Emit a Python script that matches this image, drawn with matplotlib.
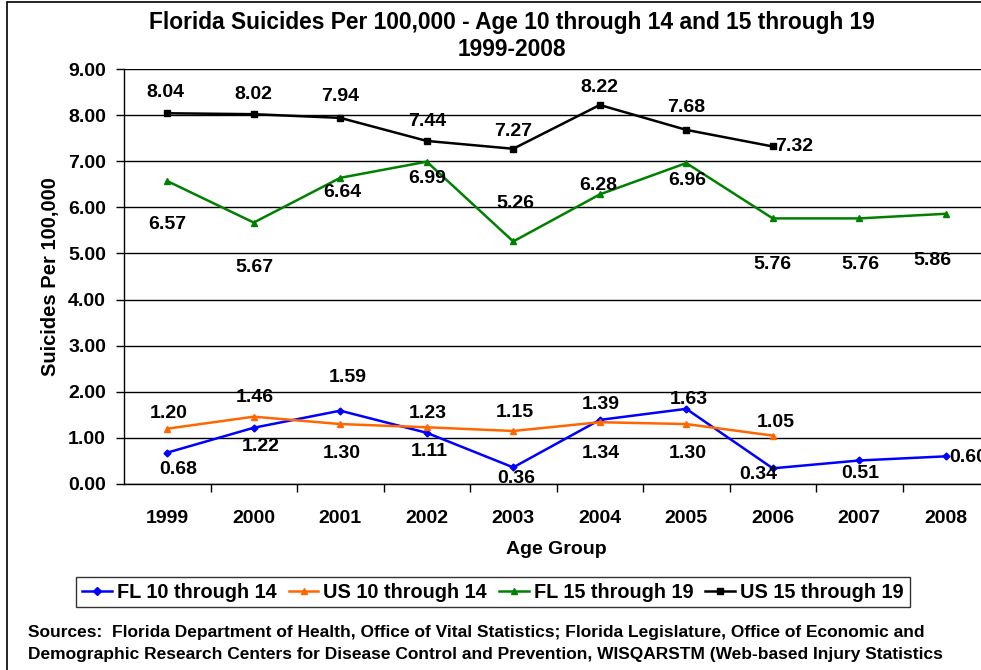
import matplotlib
matplotlib.use("Agg")
import matplotlib.pyplot as plt
from matplotlib.patches import Rectangle

plt.rcParams['font.family'] = ['Liberation Sans', 'DejaVu Sans']
plt.rcParams['font.weight'] = 'bold'

years = ['1999', '2000', '2001', '2002', '2003', '2004', '2005', '2006', '2007', '2008']
fl_10_14 = [0.68, 1.22, 1.59, 1.11, 0.36, 1.39, 1.63, 0.34, 0.51, 0.60]
us_10_14 = [1.20, 1.46, 1.30, 1.23, 1.15, 1.34, 1.30, 1.05]
fl_15_19 = [6.57, 5.67, 6.64, 6.99, 5.26, 6.28, 6.96, 5.76, 5.76, 5.86]
us_15_19 = [8.04, 8.02, 7.94, 7.44, 7.27, 8.22, 7.68, 7.32]

# label offsets in pixels (style)
off_fl10 = [(11, -17), (7, -19), (7, 33), (3, -19), (3, -11), (1, 15), (3, 9), (-15, -6), (1, -13), (22, -1)]
off_us10 = [(1, 15), (1, 19), (2, -29), (1, 14), (2, 18), (1, -31), (1, -29), (3, 13)]
off_fl15 = [(0, -43), (1, -45), (2, -15), (0, -17), (2, 38), (-1, 9), (1, -17), (0, -46), (1, -46), (-13, -47)]
off_us15 = [(-2, 21), (0, 20), (0, 21), (0, 19), (0, 17), (0, 17), (0, 22), (21, 0)]

fig = plt.figure(figsize=(9.81, 6.70), dpi=100)
W, H = 981, 670

# outer border
fig.patches.append(Rectangle((7 / W, -0.01), 1.0, 1 - 2 / H + 0.01, transform=fig.transFigure,
                             fill=False, edgecolor='black', linewidth=1.2))

ax = fig.add_axes([124 / W, (H - 484) / H, 865 / W, 415 / H])
ax.set_facecolor('none')

series = [
    (fl_10_14, '#0000FF', 'D', 3.5, 'FL 10 through 14', off_fl10),
    (us_10_14, '#FF6600', '^', 5, 'US 10 through 14', off_us10),
    (fl_15_19, '#008000', '^', 5, 'FL 15 through 19', off_fl15),
    (us_15_19, '#000000', 's', 4, 'US 15 through 19', off_us15),
]

FS = 14
handles = []
for vals, col, mk, ms, lab, offs in series:
    xs = list(range(len(vals)))
    ln, = ax.plot(xs, vals, color=col, marker=mk, markersize=ms, linewidth=1.8,
                  markeredgecolor=col, markerfacecolor=col, label=lab, zorder=3)
    handles.append(ln)
    for x, v, (dx, dy) in zip(xs, vals, offs):
        ax.annotate(f"{v:.2f}", (x, v), xytext=(dx, dy), textcoords='offset pixels',
                    ha='center', va='center', fontsize=FS, fontweight='bold',
                    color='black', annotation_clip=False, zorder=4)

ax.set_xlim(-0.5, 9.5)
ax.set_ylim(0, 9)
ax.set_yticks([i for i in range(10)])
ax.set_yticklabels([f"{i:.2f}" for i in range(10)], fontsize=FS, fontweight='bold')
ax.set_xticks(range(10))
ax.set_xticklabels(years, fontsize=FS, fontweight='bold')
ax.set_xticks([i + 0.5 for i in range(9)], minor=True)
ax.tick_params(axis='x', which='major', length=0, pad=19)
ax.tick_params(axis='x', which='minor', length=6, width=1, direction='out')
ax.tick_params(axis='y', which='major', length=6, width=1, direction='out', pad=7)
ax.grid(axis='y', color='black', linewidth=1.0, zorder=0)
for s in ['top', 'right']:
    ax.spines[s].set_visible(False)
ax.spines['left'].set_linewidth(1.0)
ax.spines['bottom'].set_linewidth(1.0)

ax.set_ylabel('Suicides Per 100,000', fontsize=14.5, fontweight='bold', labelpad=6)
fig.text(556 / W, 1 - 549 / H, 'Age Group', ha='center', va='center', fontsize=14, fontweight='bold')

fig.text(512 / W, 1 - 22 / H, 'Florida Suicides Per 100,000 - Age 10 through 14 and 15 through 19',
         ha='center', va='center', fontsize=16.4, fontweight='bold')
fig.text(512 / W, 1 - 50 / H, '1999-2008', ha='center', va='center', fontsize=16.4, fontweight='bold')

leg = fig.legend(handles=handles, loc='center', bbox_to_anchor=(493 / W, 1 - 592 / H), ncol=4,
                 frameon=True, fancybox=False, edgecolor='black',
                 handlelength=1.5, handletextpad=0.25, columnspacing=0.6, borderpad=0.3,
                 prop={'weight': 'bold', 'size': 14.3})
leg.get_frame().set_linewidth(1.0)
for h in leg.legend_handles:
    h.set_markersize(4)

src = ["Sources:  Florida Department of Health, Office of Vital Statistics; Florida Legislature, Office of Economic and",
       "Demographic Research Centers for Disease Control and Prevention, WISQARSTM (Web-based Injury Statistics",
       "Query and Reporting System)"]
for i, line in enumerate(src):
    fig.text(28 / W, 1 - (632 + 23 * i) / H, line, ha='left', va='center', fontsize=12.5, fontweight='bold')

fig.savefig('out.png', dpi=100)
